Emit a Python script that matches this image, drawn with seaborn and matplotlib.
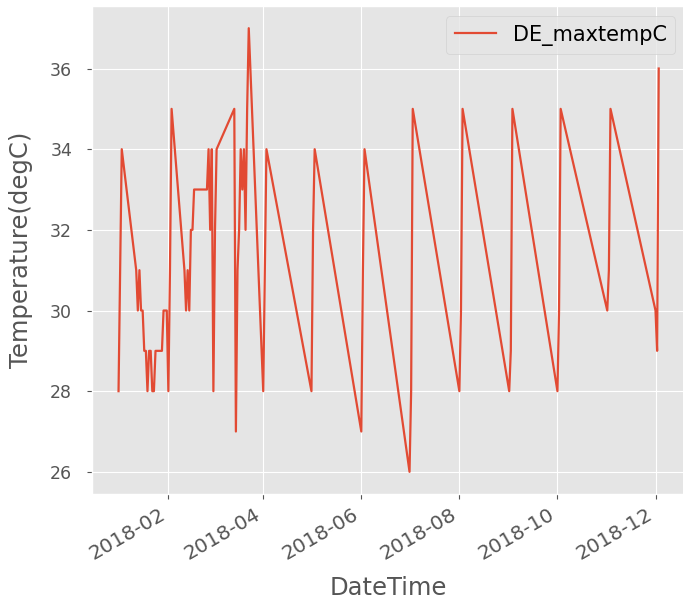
import pandas as pd
import seaborn as sns
import matplotlib.pyplot as plt
import matplotlib.dates as mdates

plt.style.use('ggplot')

# readings (date, max temperature) as they appear in the chart, in file order
dates = ['2018-01-01', '2018-01-02', '2018-01-03', '2018-01-12', '2018-01-13',
         '2018-01-14', '2018-01-15', '2018-01-16', '2018-01-17', '2018-01-18',
         '2018-01-19', '2018-01-20', '2018-01-21', '2018-01-22', '2018-01-23',
         '2018-01-24', '2018-01-25', '2018-01-26', '2018-01-27', '2018-01-28',
         '2018-01-29', '2018-01-30', '2018-01-31',
         '2018-02-01', '2018-02-02', '2018-02-03', '2018-02-11', '2018-02-12',
         '2018-02-13', '2018-02-14', '2018-02-15', '2018-02-16', '2018-02-17',
         '2018-02-25', '2018-02-26', '2018-02-27', '2018-02-28',
         '2018-03-01', '2018-03-02', '2018-03-03', '2018-03-14', '2018-03-15',
         '2018-03-16', '2018-03-17', '2018-03-18', '2018-03-19', '2018-03-20',
         '2018-03-21', '2018-03-22', '2018-03-23',
         '2018-04-01', '2018-04-02', '2018-04-03',
         '2018-05-01', '2018-05-02', '2018-05-03',
         '2018-06-01', '2018-06-02', '2018-06-03',
         '2018-07-01', '2018-07-02', '2018-07-03',
         '2018-08-01', '2018-08-02', '2018-08-03',
         '2018-09-01', '2018-09-02', '2018-09-03',
         '2018-10-01', '2018-10-02', '2018-10-03',
         '2018-11-01', '2018-11-02', '2018-11-03',
         '2018-12-01', '2018-12-02', '2018-12-03']
maxtemp = [28, 31, 34, 31, 30,
           31, 30, 30, 29, 29,
           28, 29, 29, 28, 28,
           29, 29, 29, 29, 29,
           30, 30, 30,
           28, 31, 35, 31, 30,
           31, 30, 32, 32, 33,
           33, 34, 32, 34,
           28, 32, 34, 35, 27,
           31, 32, 34, 33, 34,
           32, 35, 37,
           28, 31, 34,
           28, 32, 34,
           27, 31, 34,
           26, 28, 35,
           28, 30, 35,
           28, 29, 35,
           28, 30, 35,
           30, 31, 35,
           30, 29, 36]

df = pd.DataFrame({'DateTime': pd.to_datetime(dates), 'DE_maxtempC': maxtemp})

fig = plt.figure(figsize=(6.83, 6.01), dpi=100)
ax = fig.add_axes([0.134, 0.178, 0.87, 0.812])

sns.lineplot(data=df, x='DateTime', y='DE_maxtempC', estimator=None, sort=False,
             color='#E24A33', linewidth=1.6, label='DE_maxtempC', ax=ax)

ax.xaxis.set_major_locator(mdates.MonthLocator(bymonth=[2, 4, 6, 8, 10, 12]))
ax.xaxis.set_major_formatter(mdates.DateFormatter('%Y-%m'))
ax.margins(0.05)
ax.set_yticks([26, 28, 30, 32, 34, 36])
ax.tick_params(axis='x', labelsize=14.5, pad=4)
ax.tick_params(axis='y', labelsize=12.5, pad=10.5)
for lbl in ax.get_xticklabels():
    lbl.set_rotation(30)
    lbl.set_ha('right')
ax.set_xlabel('DateTime', fontsize=17.5, labelpad=9)
ax.set_ylabel('Temperature(degC)', fontsize=17.5, labelpad=12)
ax.legend(loc='upper right', fontsize=15)

plt.savefig('out.png', dpi=100)
